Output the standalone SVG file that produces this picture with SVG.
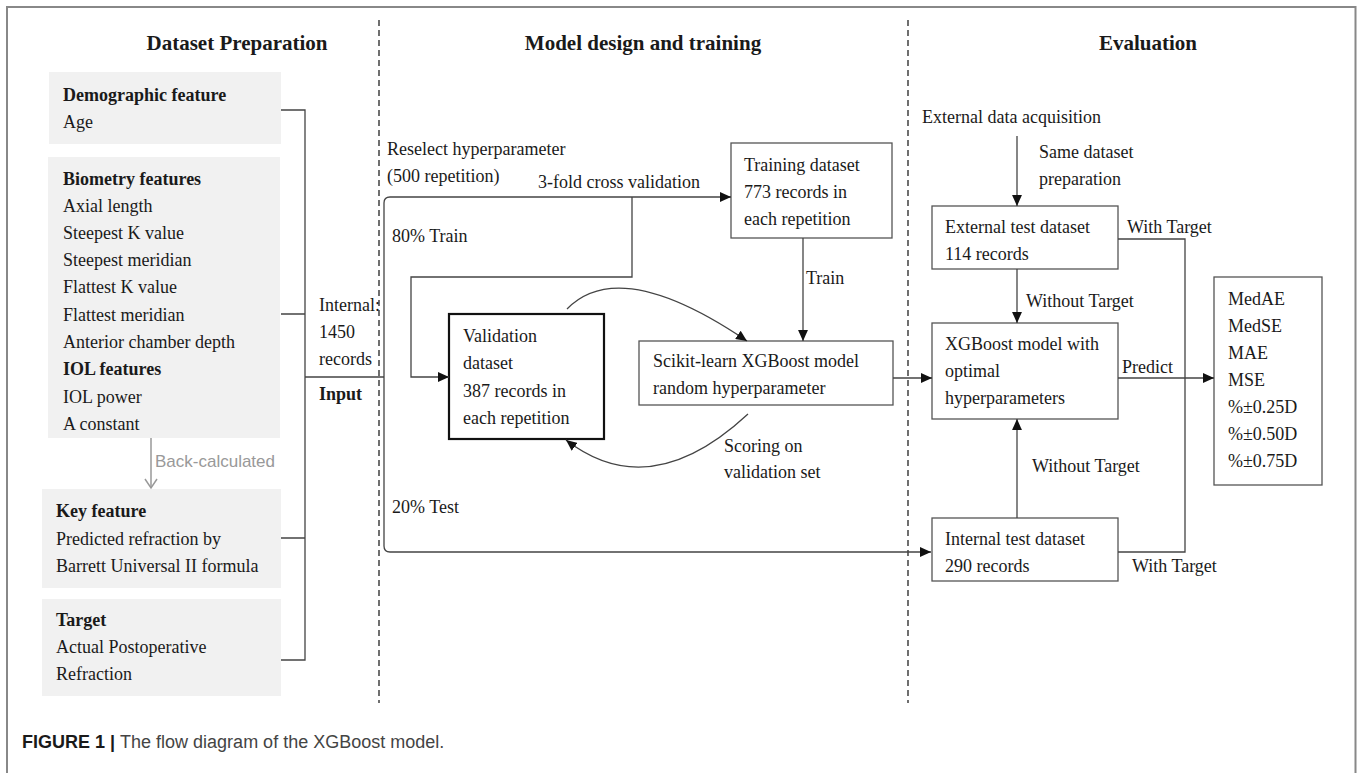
<svg xmlns="http://www.w3.org/2000/svg" width="1357" height="773" viewBox="0 0 1357 773">
<defs>
<style>
.t{font-family:"Liberation Serif","Times New Roman",serif;font-size:18px;fill:#1a1a1a}
.b{font-weight:bold}
.h{font-family:"Liberation Serif","Times New Roman",serif;font-size:21px;font-weight:bold;fill:#1a1a1a;text-anchor:middle}
.g{fill:#f1f1f1;stroke:none}
.box{fill:#fff;stroke:#555;stroke-width:1.3}
.ln{fill:none;stroke:#444;stroke-width:1.3}
.arr{marker-end:url(#ah)}
.dash{stroke:#222;stroke-width:1.3;stroke-dasharray:6 4;fill:none}
</style>
<marker id="ah" viewBox="0 0 10 9" refX="10" refY="4.5" markerWidth="11" markerHeight="10" markerUnits="userSpaceOnUse" orient="auto">
<path d="M0,0 L10,4.5 L0,9 z" fill="#111"/>
</marker>
</defs>
<rect width="1357" height="773" fill="#fff"/>
<path d="M7,773 V7 H1355.5 V773" fill="none" stroke="#888" stroke-width="2"/>

<g id="separators">
<line x1="379" y1="20" x2="379" y2="703" class="dash"/>
<line x1="908" y1="20" x2="908" y2="703" class="dash"/>
</g>

<g id="titles">
<text class="h" x="237" y="50">Dataset Preparation</text>
<text class="h" x="643" y="50">Model design and training</text>
<text class="h" x="1148" y="50">Evaluation</text>
</g>

<g id="demographic">
<rect class="g" x="49" y="72" width="232" height="72"/>
<text class="t b" x="63" y="101">Demographic feature</text>
<text class="t" x="63" y="128">Age</text>
</g>
<g id="biometry">
<rect class="g" x="48" y="157" width="232" height="281"/>
<text class="t b" x="63" y="185">Biometry features</text>
<text class="t" x="63" y="212">Axial length</text>
<text class="t" x="63" y="239">Steepest K value</text>
<text class="t" x="63" y="266">Steepest meridian</text>
<text class="t" x="63" y="293">Flattest K value</text>
<text class="t" x="63" y="321">Flattest meridian</text>
<text class="t" x="63" y="348">Anterior chamber depth</text>
<text class="t b" x="63" y="375">IOL features</text>
<text class="t" x="63" y="403">IOL power</text>
<text class="t" x="63" y="430">A constant</text>
</g>
<g id="key-feature">
<rect class="g" x="42" y="489" width="239" height="99"/>
<text class="t b" x="56" y="517">Key feature</text>
<text class="t" x="56" y="545">Predicted refraction by</text>
<text class="t" x="56" y="572">Barrett Universal II formula</text>
</g>
<g id="target">
<rect class="g" x="42" y="599" width="239" height="97"/>
<text class="t b" x="56" y="626">Target</text>
<text class="t" x="56" y="653">Actual Postoperative</text>
<text class="t" x="56" y="680">Refraction</text>
</g>
<g id="back-calculated">
<line x1="151" y1="438" x2="151" y2="488" stroke="#999" stroke-width="1.5"/>
<polyline points="145,479 151,488 157,479" fill="none" stroke="#999" stroke-width="1.5"/>
<text x="155" y="467" font-family="Liberation Sans, Arial, sans-serif" font-size="17" fill="#999">Back-calculated</text>
</g>
<g id="input-label">
<text class="t" x="319" y="311">Internal:</text>
<text class="t" x="319" y="338">1450</text>
<text class="t" x="319" y="365">records</text>
<text class="t b" x="319" y="400">Input</text>
</g>

<g id="training">
<rect class="box" x="731" y="143" width="161" height="95"/>
<text class="t" x="744" y="171">Training dataset</text>
<text class="t" x="744" y="198">773 records in</text>
<text class="t" x="744" y="225">each repetition</text>
</g>
<g id="validation">
<rect x="449" y="314" width="155" height="125" fill="#fff" stroke="#111" stroke-width="2.2"/>
<text class="t" x="463" y="342">Validation</text>
<text class="t" x="463" y="369">dataset</text>
<text class="t" x="463" y="397">387 records in</text>
<text class="t" x="463" y="424">each repetition</text>
</g>
<g id="scikit">
<rect class="box" x="639" y="341" width="254" height="64"/>
<text class="t" x="653" y="367">Scikit-learn XGBoost model</text>
<text class="t" x="653" y="394">random hyperparameter</text>
</g>
<g id="external-test">
<rect class="box" x="932" y="206" width="186" height="63"/>
<text class="t" x="945" y="233">External test dataset</text>
<text class="t" x="945" y="260">114 records</text>
</g>
<g id="xgboost-optimal">
<rect class="box" x="932" y="323" width="186" height="96"/>
<text class="t" x="945" y="350">XGBoost model with</text>
<text class="t" x="945" y="377">optimal</text>
<text class="t" x="945" y="404">hyperparameters</text>
</g>
<g id="internal-test">
<rect class="box" x="932" y="518" width="186" height="63"/>
<text class="t" x="945" y="545">Internal test dataset</text>
<text class="t" x="945" y="572">290 records</text>
</g>
<g id="metrics">
<rect class="box" x="1214" y="277" width="108" height="208"/>
<text class="t" x="1228" y="305">MedAE</text>
<text class="t" x="1228" y="332">MedSE</text>
<text class="t" x="1228" y="359">MAE</text>
<text class="t" x="1228" y="386">MSE</text>
<text class="t" x="1228" y="413">%±0.25D</text>
<text class="t" x="1228" y="440">%±0.50D</text>
<text class="t" x="1228" y="467">%±0.75D</text>
</g>
<g id="external-acquisition">
<text class="t" x="922" y="123">External data acquisition</text>
</g>

<g id="connectors">
<path class="ln" d="M281,110 H305 V660 H281 M281,314 H305 M281,538 H305 M305,377 H384"/>
<path class="ln arr" d="M384,377 V203 Q384,197 390,197 H731"/>
<path class="ln arr" d="M384,377 V546 Q384,552 390,552 H931"/>
<path class="ln arr" d="M632,197 V277 H411 V377 H449"/>
<path class="ln arr" d="M803,238 V341"/>
<path class="ln arr" d="M567,309 Q620,255 747,341"/>
<path class="ln arr" d="M748,414 Q650,505 566,440"/>
<path class="ln arr" d="M893,378 H932"/>
<path class="ln arr" d="M1017,136 V206"/>
<path class="ln arr" d="M1017,269 V323"/>
<path class="ln arr" d="M1017,518 V419"/>
<path class="ln" d="M1118,239 H1185 V552 H1118"/>
<path class="ln arr" d="M1118,378 H1214"/>
</g>

<g id="connector-labels">
<text class="t" x="387" y="155">Reselect hyperparameter</text>
<text class="t" x="387" y="182">(500 repetition)</text>
<text class="t" x="538" y="188">3-fold cross validation</text>
<text class="t" x="392" y="242">80% Train</text>
<text class="t" x="392" y="513">20% Test</text>
<text class="t" x="806" y="284">Train</text>
<text class="t" x="724" y="452">Scoring on</text>
<text class="t" x="724" y="478">validation set</text>
<text class="t" x="1039" y="158">Same dataset</text>
<text class="t" x="1039" y="185">preparation</text>
<text class="t" x="1127" y="233">With Target</text>
<text class="t" x="1026" y="307">Without Target</text>
<text class="t" x="1122" y="373">Predict</text>
<text class="t" x="1032" y="472">Without Target</text>
<text class="t" x="1132" y="572">With Target</text>
</g>

<g id="caption">
<text x="22" y="748" font-family="Liberation Sans, Arial, sans-serif" font-size="18" fill="#444"><tspan font-weight="bold" fill="#1a1a1a">FIGURE 1 | </tspan>The flow diagram of the XGBoost model.</text>
</g>
</svg>
